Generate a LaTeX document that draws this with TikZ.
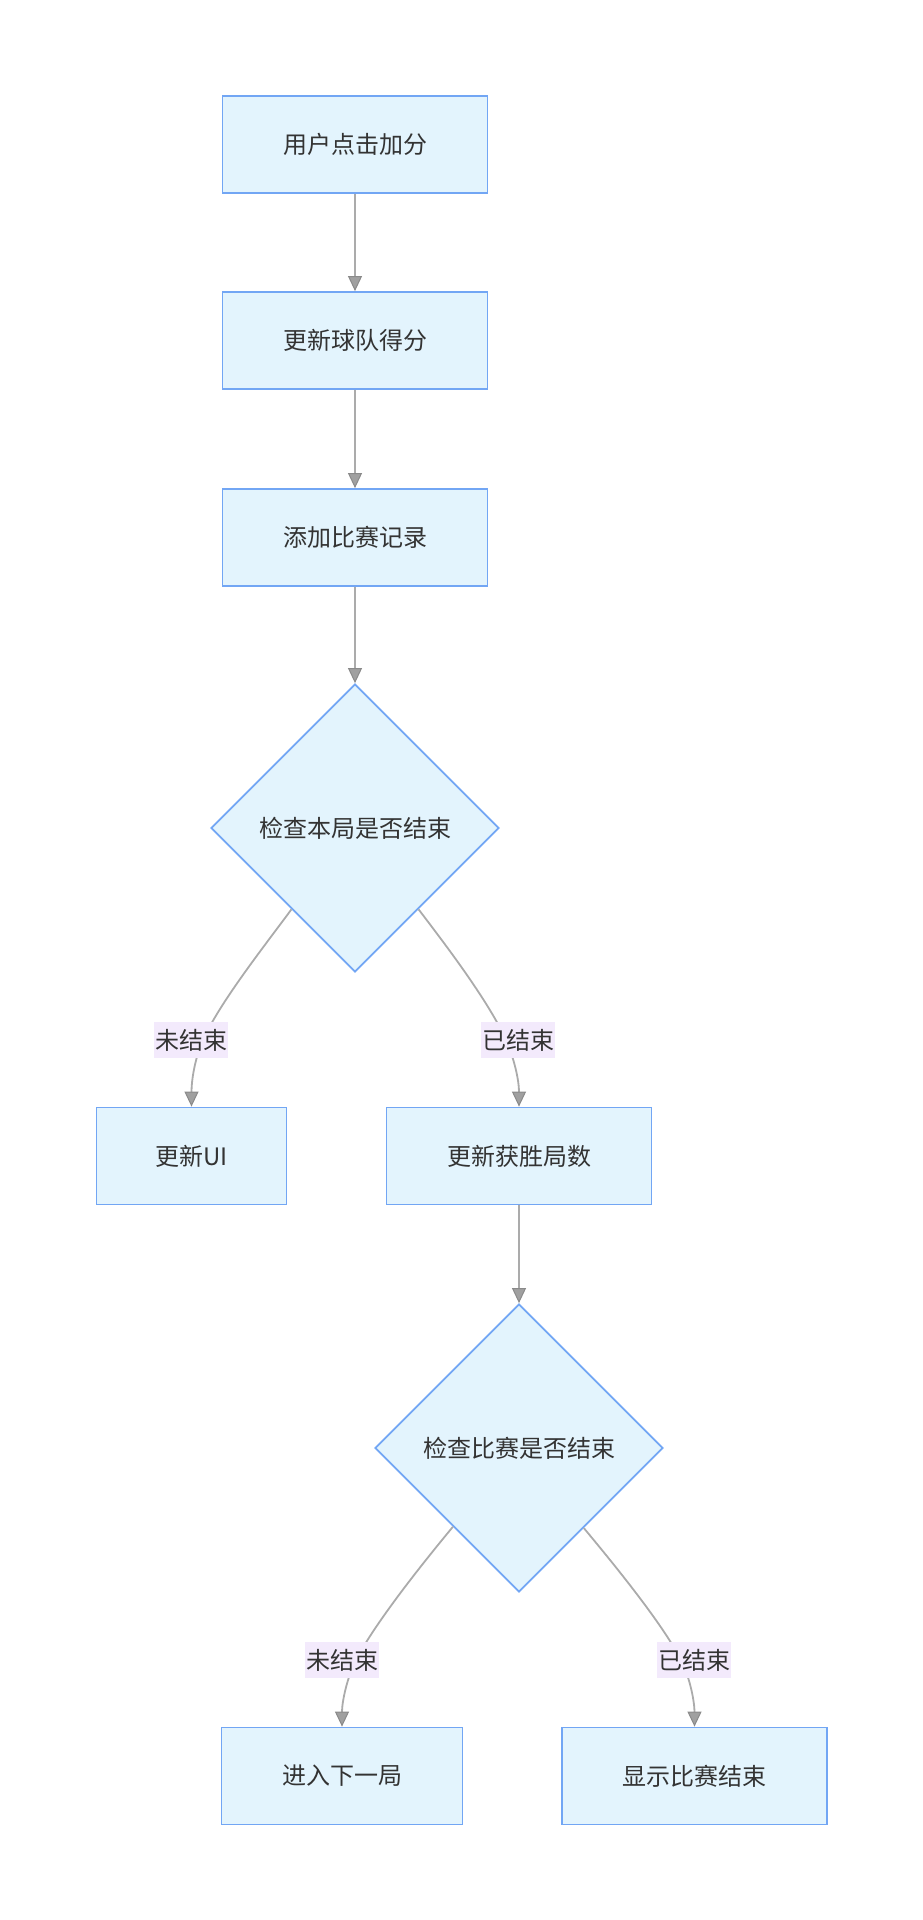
\documentclass[tikz,border=0pt]{standalone}
\usepackage{fontspec}
\setmainfont{Noto Sans CJK SC}
\usetikzlibrary{shapes.geometric,arrows.meta}
\definecolor{nodefill}{HTML}{E3F4FD}
\definecolor{nodeline}{HTML}{72A6F4}
\definecolor{edgeline}{HTML}{ABABAB}
\definecolor{tipfill}{HTML}{A0A0A0}
\definecolor{tipline}{HTML}{8A8A8A}
\definecolor{lblfill}{HTML}{F3EAFC}
\definecolor{txt}{HTML}{333333}
\tikzset{
  box/.style={draw=nodeline, fill=nodefill, line width=1.8pt, minimum width=265pt, minimum height=97pt, inner sep=0pt, text=txt, font=\fontsize{24pt}{28pt}\selectfont},
  dec/.style={diamond, draw=nodeline, fill=nodefill, line width=1.8pt, minimum width=288pt, minimum height=288pt, inner sep=0pt, text=txt, font=\fontsize{24pt}{28pt}\selectfont},
  lbl/.style={fill=lblfill, inner xsep=1pt, inner ysep=0pt, minimum width=72pt, minimum height=36pt, text=txt, font=\fontsize{24pt}{28pt}\selectfont},
  edge/.style={draw=edgeline, line width=1.8pt, -{Triangle[width=14pt,length=15pt,fill=tipfill,color=tipline,line width=1pt]}}
}
\begin{document}
\begin{tikzpicture}[x=1pt,y=1pt]
\useasboundingbox (0,0) rectangle (922,-1920);
\node[box] (a) at (355,-144.5) {用户点击加分};
\node[box] (b) at (355,-340.5) {更新球队得分};
\node[box] (c) at (355,-537.5) {添加比赛记录};
\node[dec] (d1) at (355,-828) {检查本局是否结束};
\node[box, minimum width=190pt] (ui) at (191.5,-1156) {更新UI};
\node[box] (w) at (519,-1156) {更新获胜局数};
\node[dec] (d2) at (519,-1448) {检查比赛是否结束};
\node[box, minimum width=241pt] (n) at (342,-1776) {进入下一局};
\node[box] (e) at (694.5,-1776) {显示比赛结束};
\coordinate (q1) at (203,-1040);
\coordinate (q2) at (506,-1040);
\coordinate (q3) at (356,-1660);
\coordinate (q4) at (681,-1660);
\draw[edge] (a) -- (b);
\draw[edge] (b) -- (c);
\draw[edge] (c) -- (d1);
\draw[edge] (w) -- (d2);
\draw[edge] (d1.-128) .. controls (261.4,-949.9) and (219.3,-1003.5) .. (q1)
  .. controls (194.9,-1058.3) and (191.5,-1080) .. (ui.north);
\draw[edge] (d1.-52) .. controls (449.6,-949.9) and (489.7,-1003.5) .. (q2)
  .. controls (514.1,-1058.3) and (519,-1080) .. (w.north);
\draw[edge] (d2.-130) .. controls (420.9,-1565.3) and (374.2,-1624.4) .. (q3)
  .. controls (346.9,-1677.8) and (342,-1702) .. (n.north);
\draw[edge] (d2.-51) .. controls (616.1,-1566.8) and (662.8,-1624.4) .. (q4)
  .. controls (690.1,-1677.8) and (694.5,-1702) .. (e.north);
\node[lbl] (l1) at (191,-1040) {未结束};
\node[lbl] (l2) at (518,-1040) {已结束};
\node[lbl] (l3) at (342,-1660) {未结束};
\node[lbl] (l4) at (694,-1660) {已结束};
\end{tikzpicture}
\end{document}
